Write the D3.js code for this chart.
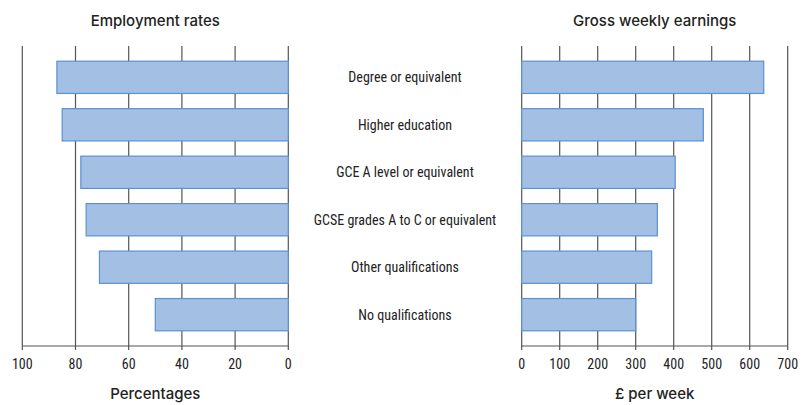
<!DOCTYPE html>
<html>
<head>
<meta charset="utf-8">
<script src="https://cdn.jsdelivr.net/npm/d3@7"></script>
<style>
  body { margin: 0; background: #fff; }
  text { fill: #222; }
</style>
</head>
<body>
<script>
// data
const categories = [
  'Degree or equivalent',
  'Higher education',
  'GCE A level or equivalent',
  'GCSE grades A to C or equivalent',
  'Other qualifications',
  'No qualifications'
];
const employmentRates = [87, 85, 78, 76, 71, 50];
const weeklyEarnings = [637, 478, 404, 357, 342, 300];
const rateTicks = [100, 80, 60, 40, 20, 0];
const earningsTicks = [0, 100, 200, 300, 400, 500, 600, 700];

const width = 810;
const height = 405;
const plotTop = 46;
const plotBottom = 346;

const svg = d3.select('body').append('svg')
  .attr('width', width)
  .attr('height', height);

const y = d3.scaleBand()
  .domain(categories)
  .range([plotTop, plotBottom])
  .padding(0.32);

const xLeft = d3.scaleLinear().domain([100, 0]).range([22.3, 288.3]);
const xRight = d3.scaleLinear().domain([0, 700]).range([521.7, 787.7]);

const narrow = '"Liberation Sans Narrow", "Arial Narrow", "Roboto Condensed", "Liberation Sans", sans-serif';
const heading = 'Inter, "Liberation Sans", sans-serif';

function panel(x, ticks, values, title, unit, anchorLeft) {
  const g = svg.append('g');

  // grid lines
  g.selectAll('line.grid')
    .data(ticks)
    .enter().append('line')
    .attr('class', 'grid')
    .attr('x1', (d) => x(d))
    .attr('x2', (d) => x(d))
    .attr('y1', plotTop)
    .attr('y2', plotBottom + 4)
    .attr('stroke', '#555')
    .attr('stroke-width', 1.2);

  g.append('line')
    .attr('x1', x.range()[0])
    .attr('x2', x.range()[1])
    .attr('y1', plotBottom)
    .attr('y2', plotBottom)
    .attr('stroke', '#555')
    .attr('stroke-width', 1.2);

  // bars
  g.selectAll('rect')
    .data(values)
    .enter().append('rect')
    .attr('x', (d) => anchorLeft ? x(d) : x(0))
    .attr('width', (d) => Math.abs(x(d) - x(0)))
    .attr('y', (d, i) => y(categories[i]))
    .attr('height', y.bandwidth())
    .attr('fill', '#a3bfe3')
    .attr('stroke', '#5a92d2')
    .attr('stroke-width', 1.2);

  // tick labels
  g.selectAll('text.tick')
    .data(ticks)
    .enter().append('text')
    .attr('class', 'tick')
    .attr('x', (d) => x(d))
    .attr('y', 369)
    .attr('text-anchor', 'middle')
    .style('font-family', narrow)
    .style('font-size', '14px')
    .text((d) => d);

  const mid = (x.range()[0] + x.range()[1]) / 2;
  g.append('text')
    .attr('x', mid)
    .attr('y', 26)
    .attr('text-anchor', 'middle')
    .style('font-family', heading)
    .style('font-weight', 500)
    .style('font-size', '15px')
    .text(title);

  g.append('text')
    .attr('x', mid)
    .attr('y', 399)
    .attr('text-anchor', 'middle')
    .style('font-family', heading)
    .style('font-weight', 500)
    .style('font-size', '15px')
    .text(unit);
}

panel(xLeft, rateTicks, employmentRates, 'Employment rates', 'Percentages', true);
panel(xRight, earningsTicks, weeklyEarnings, 'Gross weekly earnings', '£ per week', false);

// category labels in the middle
svg.selectAll('text.cat')
  .data(categories)
  .enter().append('text')
  .attr('class', 'cat')
  .attr('x', 405)
  .attr('y', (d) => y(d) + y.bandwidth() / 2 + 5)
  .attr('text-anchor', 'middle')
  .style('font-family', narrow)
  .style('font-size', '14px')
  .text((d) => d);
</script>
</body>
</html>
